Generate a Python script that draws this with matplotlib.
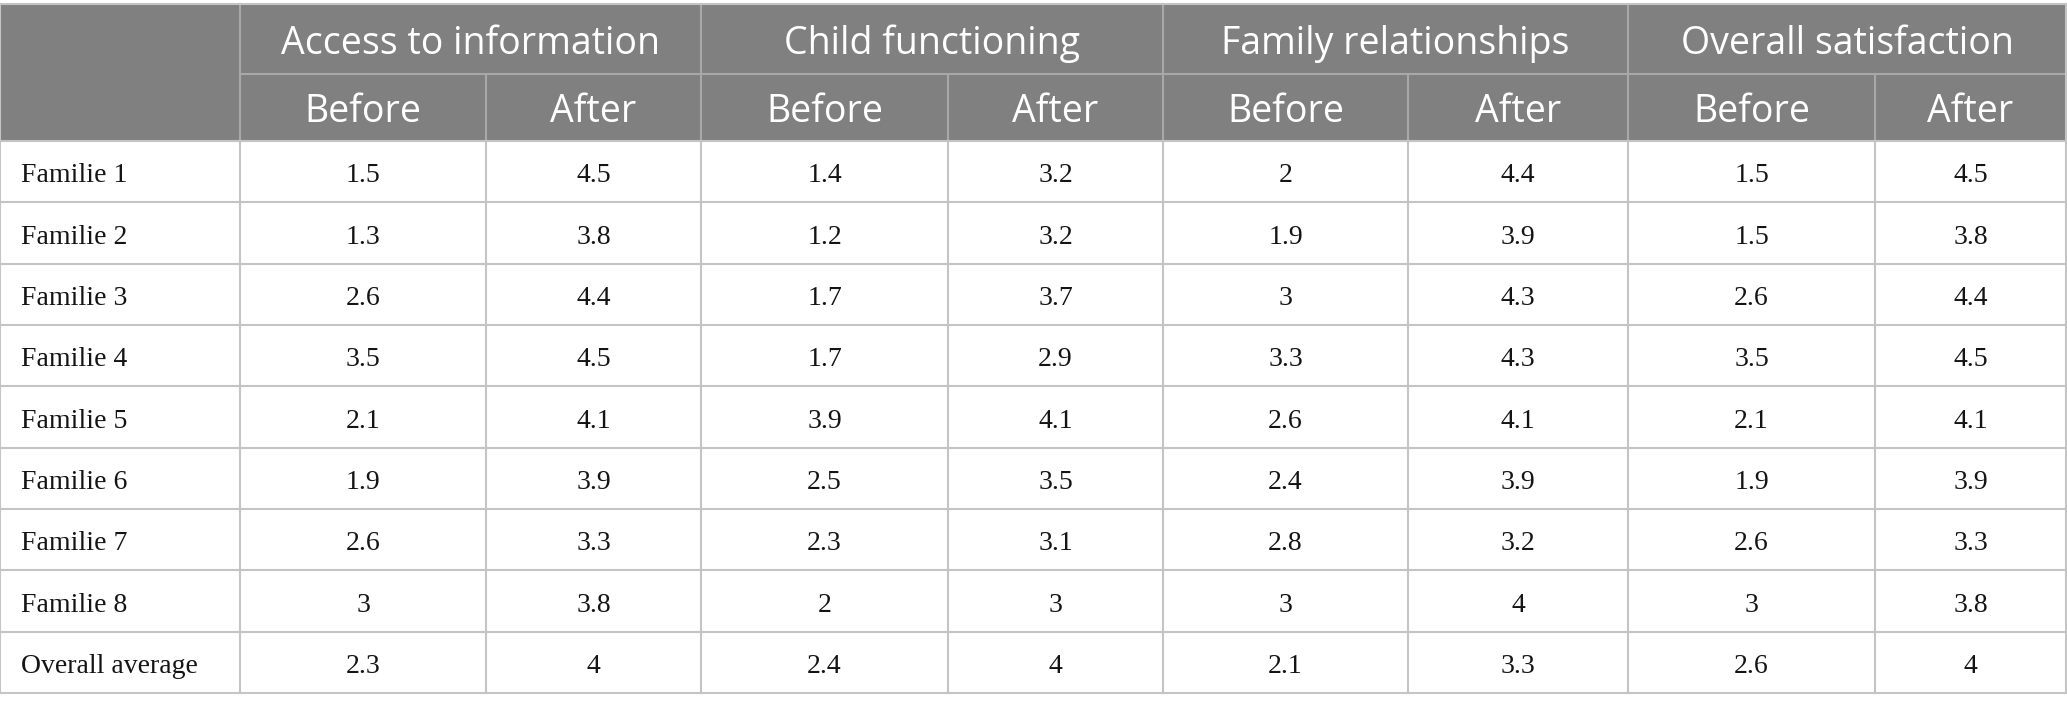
import matplotlib
matplotlib.use("Agg")
import matplotlib.pyplot as plt
from matplotlib.patches import Rectangle

# --- dados da tabela ---
groups = ["Access to information", "Child functioning", "Family relationships", "Overall satisfaction"]
sub_labels = ["Before", "After"]
row_labels = ["Familie 1", "Familie 2", "Familie 3", "Familie 4", "Familie 5",
              "Familie 6", "Familie 7", "Familie 8", "Overall average"]

access_before = [1.5, 1.3, 2.6, 3.5, 2.1, 1.9, 2.6, 3, 2.3]
access_after = [4.5, 3.8, 4.4, 4.5, 4.1, 3.9, 3.3, 3.8, 4]
child_before = [1.4, 1.2, 1.7, 1.7, 3.9, 2.5, 2.3, 2, 2.4]
child_after = [3.2, 3.2, 3.7, 2.9, 4.1, 3.5, 3.1, 3, 4]
family_before = [2, 1.9, 3, 3.3, 2.6, 2.4, 2.8, 3, 2.1]
family_after = [4.4, 3.9, 4.3, 4.3, 4.1, 3.9, 3.2, 4, 3.3]
overall_before = [1.5, 1.5, 2.6, 3.5, 2.1, 1.9, 2.6, 3, 2.6]
overall_after = [4.5, 3.8, 4.4, 4.5, 4.1, 3.9, 3.3, 3.8, 4]

columns = [access_before, access_after, child_before, child_after,
           family_before, family_after, overall_before, overall_after]

# --- layout (pixels) ---
W, H = 2067, 712
col_edges = [0, 240, 486, 701, 948, 1163, 1408, 1628, 1875, 2066]
top = 4
head_mid = 74
head_bot = 141
row_h = (693 - head_bot) / len(row_labels)
text_dy = 4  # o texto fica ligeiramente abaixo do centro da célula

HEAD_BG = "#808080"
HEAD_LINE = "#a8a8a8"
GRID = "#c4c4c4"
HEAD_FONT = "Open Sans"
BODY_FONT = "Liberation Serif"

fig = plt.figure(figsize=(W / 100, H / 100), dpi=100)
ax = fig.add_axes([0, 0, 1, 1])
ax.set_xlim(0, W)
ax.set_ylim(H, 0)
ax.axis("off")

# cabeçalho
ax.add_patch(Rectangle((col_edges[0], top), col_edges[-1] - col_edges[0], head_bot - top,
                       facecolor=HEAD_BG, edgecolor="none"))
for g, name in enumerate(groups):
    x0 = col_edges[1 + 2 * g]
    x1 = col_edges[3 + 2 * g]
    ax.text((x0 + x1) / 2, (top + head_mid) / 2 + text_dy + 1, name, ha="center", va="center",
            color="white", fontsize=27, family=HEAD_FONT)
    for k, lab in enumerate(sub_labels):
        a = col_edges[1 + 2 * g + k]
        b = col_edges[2 + 2 * g + k]
        ax.text((a + b) / 2, (head_mid + head_bot) / 2 + text_dy + 1, lab, ha="center", va="center",
                color="white", fontsize=27, family=HEAD_FONT)

# linhas do cabeçalho
ax.plot([col_edges[1], col_edges[-1]], [head_mid, head_mid], color=HEAD_LINE, lw=1.5)
for i, x in enumerate(col_edges[1:-1]):
    y0 = top if i % 2 == 0 else head_mid
    ax.plot([x, x], [y0, head_bot], color=HEAD_LINE, lw=1.5)

# corpo
for r, lab in enumerate(row_labels):
    yc = head_bot + (r + 0.5) * row_h + text_dy
    ax.text(21, yc, lab, ha="left", va="center", fontsize=20, family=BODY_FONT, color="#141414")
    for c, vals in enumerate(columns):
        a = col_edges[1 + c]
        b = col_edges[2 + c]
        ax.text((a + b) / 2, yc, f"{vals[r]:g}", ha="center", va="center",
                fontsize=20, family=BODY_FONT, color="#141414")

bottom = head_bot + len(row_labels) * row_h
for r in range(len(row_labels) + 1):
    y = head_bot + r * row_h
    ax.plot([col_edges[0], col_edges[-1]], [y, y], color=GRID, lw=1.5)
for x in col_edges:
    ax.plot([x, x], [head_bot, bottom], color=GRID, lw=1.5)
# borda externa do cabeçalho
ax.plot([col_edges[0], col_edges[-1]], [top, top], color=GRID, lw=1.5)
ax.plot([col_edges[0], col_edges[0]], [top, head_bot], color=GRID, lw=1.5)
ax.plot([col_edges[-1], col_edges[-1]], [top, head_bot], color=GRID, lw=1.5)

fig.savefig("out.png", dpi=100, facecolor="white")
